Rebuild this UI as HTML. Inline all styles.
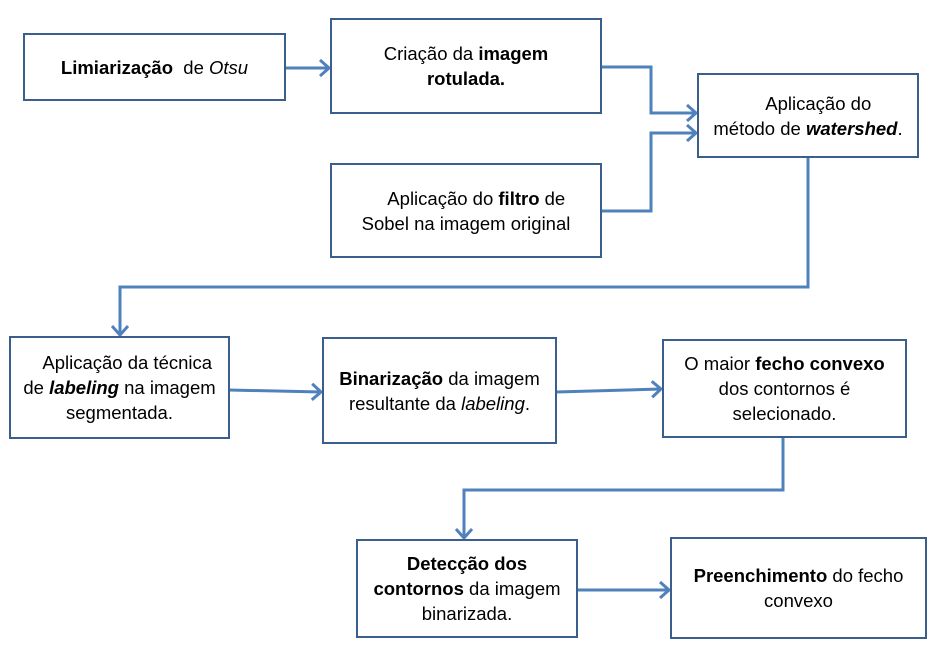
<!DOCTYPE html>
<html><head><meta charset="utf-8"><style>
body{margin:0;width:936px;height:646px;background:#fff;position:relative;overflow:hidden;font-family:"Liberation Sans",sans-serif;font-size:18.5px;color:#000}
.b{position:absolute;box-sizing:border-box;border:2.5px solid #3a5f8b;background:#fff;display:flex;align-items:center;justify-content:center;text-align:center;line-height:25px;white-space:nowrap}
svg{position:absolute;left:0;top:0}
</style></head><body>
<svg width="936" height="646"><defs><marker id="a" markerWidth="12" markerHeight="18" refX="10" refY="9" orient="auto" markerUnits="userSpaceOnUse"><path d="M1,1 L10,9 L1,17" fill="none" stroke="#4f81bd" stroke-width="3"/></marker></defs>
<g fill="none" stroke="#4f81bd" stroke-width="3" marker-end="url(#a)">
<path d="M285,68 H329"/>
<path d="M601,67 H651 V113 H696"/>
<path d="M601,211 H651 V133 H696"/>
<path d="M808,157 V287 H120 V335"/>
<path d="M229,390 L321,392"/>
<path d="M556,392 L661,389"/>
<path d="M783,437 V490 H464 V538"/>
<path d="M577,590 H669"/>
</g></svg>
<div class="b" style="left:23px;top:33px;width:263px;height:68px"><span><b>Limiarização</b>&nbsp; de <i>Otsu</i></span></div>
<div class="b" style="left:330px;top:18px;width:272px;height:96px"><span>Criação da <b>imagem<br>rotulada.</b></span></div>
<div class="b" style="left:697px;top:73px;width:222px;height:85px"><span>&nbsp;&nbsp;&nbsp;&nbsp;Aplicação do<br>método de <b><i>watershed</i></b>.</span></div>
<div class="b" style="left:330px;top:163px;width:272px;height:95px"><span>&nbsp;&nbsp;&nbsp;&nbsp;Aplicação do <b>filtro</b> de<br>Sobel na imagem original</span></div>
<div class="b" style="left:9px;top:336px;width:221px;height:103px"><span>&nbsp;&nbsp;&nbsp;Aplicação da técnica<br>de <b><i>labeling</i></b> na imagem<br>segmentada.</span></div>
<div class="b" style="left:322px;top:337px;width:235px;height:107px"><span><b>Binarização</b> da imagem<br>resultante da <i>labeling</i>.</span></div>
<div class="b" style="left:662px;top:339px;width:245px;height:99px"><span>O maior <b>fecho convexo</b><br>dos contornos é<br>selecionado.</span></div>
<div class="b" style="left:356px;top:539px;width:222px;height:99px"><span><b>Detecção dos<br>contornos</b> da imagem<br>binarizada.</span></div>
<div class="b" style="left:670px;top:537px;width:257px;height:102px"><span><b>Preenchimento</b> do fecho<br>convexo</span></div>
</body></html>
